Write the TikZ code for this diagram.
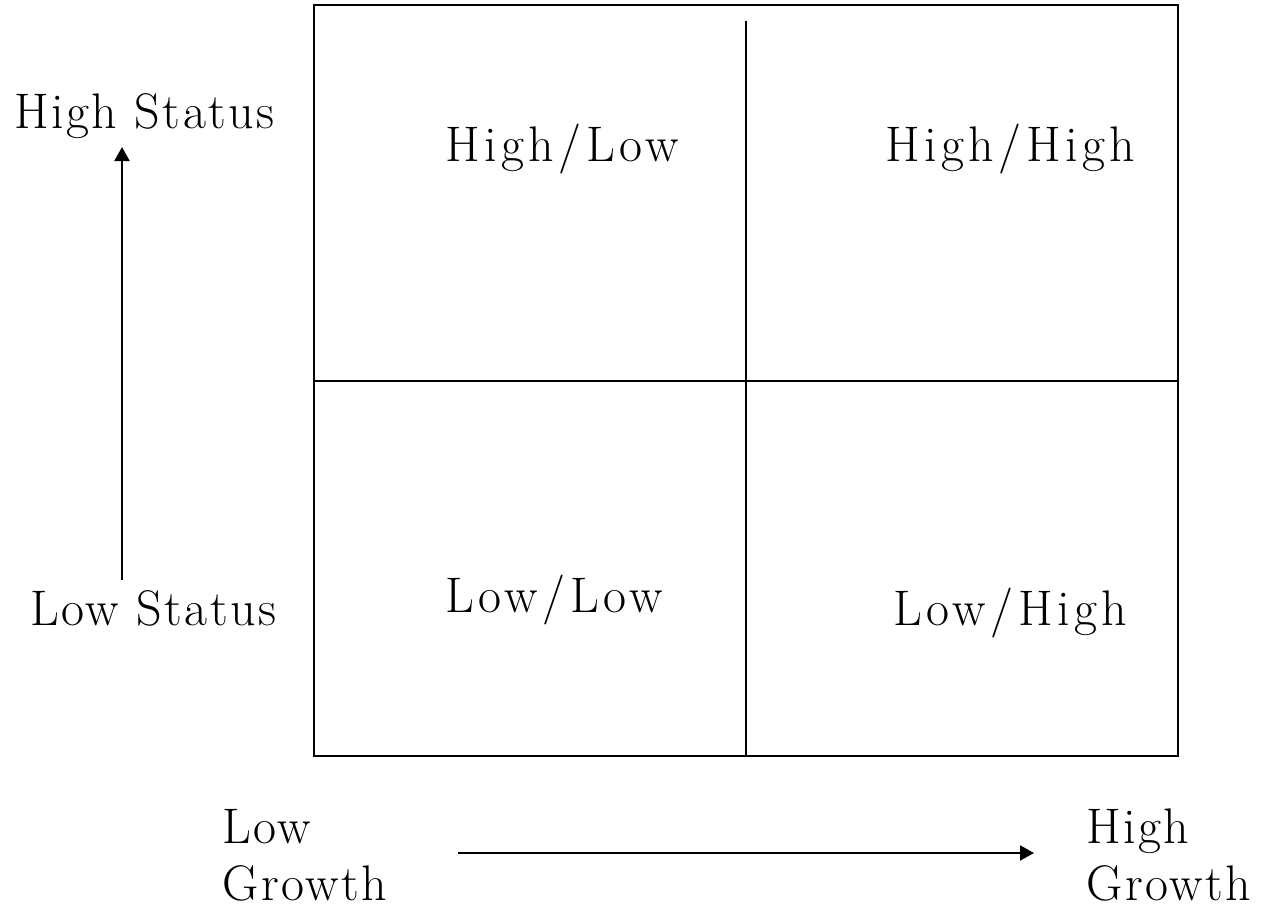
\documentclass[tikz,border=0pt]{standalone}
\usepackage{fontspec}
\newfontfamily\lblfont{Latin Modern Roman}[LetterSpace=5]
\newfontfamily\quadfont{Latin Modern Roman}[LetterSpace=9]
\usetikzlibrary{arrows.meta}
\begin{document}
\begin{tikzpicture}[x=1pt,y=-1pt,
  lbl/.style={anchor=base west,inner sep=0pt,font=\lblfont\fontsize{50}{60}\selectfont},
  qlbl/.style={anchor=base west,inner sep=0pt,font=\quadfont\fontsize{50}{60}\selectfont},
  ln/.style={line width=2pt},
  arr/.style={line width=2pt,-{Triangle[length=14pt,width=15pt]}}]
\useasboundingbox (0,0) rectangle (1269,911);
\draw[ln] (314,5) rectangle (1178,756);
\coordinate (vt) at (746,21);
\coordinate (vb) at (746,756);
\coordinate (hl) at (314,381);
\coordinate (hr) at (1178,381);
\draw[ln] (vt) -- (vb);
\draw[ln] (hl) -- (hr);
\node[lbl] (hs) at (14,128) {High Status};
\node[lbl] (ls) at (30,625) {Low Status};
\node[qlbl] (hlq) at (445,161) {High/Low};
\node[qlbl] (hhq) at (885,161) {High/High};
\node[qlbl] (llq) at (445,612) {Low/Low};
\node[qlbl] (lhq) at (893,625) {Low/High};
\node[lbl] (lg1) at (222,843) {Low};
\node[lbl] (lg2) at (222,900) {Growth};
\node[lbl] (hg1) at (1086,843) {High};
\node[lbl] (hg2) at (1086,900) {Growth};
\coordinate (va) at (122,580);
\coordinate (vz) at (122,147);
\coordinate (ha) at (458,853);
\coordinate (hz) at (1034,853);
\draw[arr] (va) -- (vz);
\draw[arr] (ha) -- (hz);
\end{tikzpicture}
\end{document}
